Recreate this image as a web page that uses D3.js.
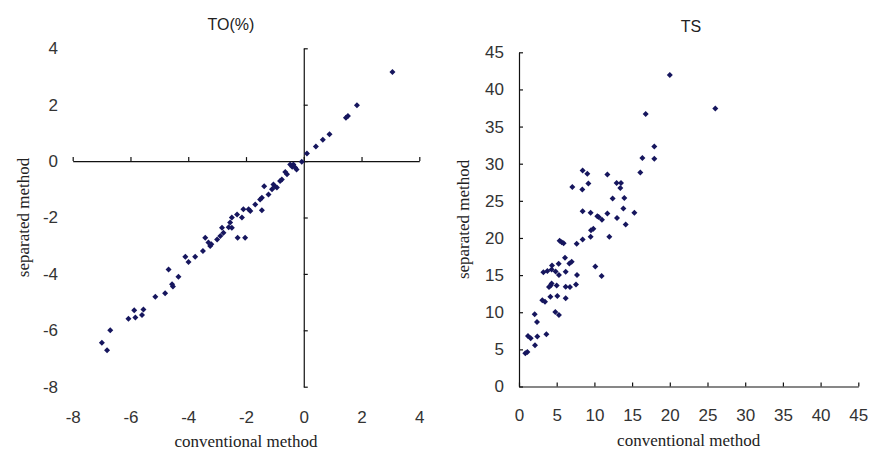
<!DOCTYPE html>
<html lang="en">
    <head>
        <meta charset="utf-8"/>
        <script src="https://d3js.org/d3.v7.min.js"></script>
        <style>
            body { margin: 0; background: #fff; }
        </style>
    </head>
    <body>
        <div id="chart"></div>
    </body>
    <script>
        // TO(%) panel: conventional vs separated method
        var toX = [3.07, 1.84, 1.53, 1.46, 0.89, 0.66, 0.42, 0.11, -0.07, -0.3, -0.36, -0.47, -0.58, -0.64,
            -0.76, -0.82, -0.93, -1.05, -1.1, -1.22, -1.37, -1.45, -1.51, -1.45, -1.68, -1.85, -1.91, -2.09,
            -2.14, -2.31, -2.49, -2.49, -2.55, -2.03, -2.29, -2.78, -2.83, -2.89, -3.0, -3.24, -3.3, -3.41,
            -3.49, -3.76, -3.99, -4.1, -4.34, -4.56, -4.53, -4.68, -4.8, -5.14, -5.55, -5.6, -5.87, -5.83,
            -6.07, -6.7, -6.99, -6.81, -0.25, -0.4, -1.0, -2.6, -3.2];
        var toY = [3.16, 1.98, 1.6, 1.54, 0.95, 0.76, 0.52, 0.27, -0.02, -0.23, -0.12, -0.12, -0.47, -0.39,
            -0.65, -0.71, -0.94, -0.83, -1.0, -1.18, -0.89, -1.3, -1.36, -1.74, -1.54, -1.77, -1.71, -1.71,
            -2.0, -1.89, -2.0, -2.36, -2.18, -2.72, -2.72, -2.54, -2.36, -2.66, -2.78, -3.01, -2.89, -2.72,
            -3.19, -3.39, -3.58, -3.39, -4.1, -4.37, -4.45, -3.84, -4.69, -4.81, -5.26, -5.46, -5.29, -5.55,
            -5.59, -6.0, -6.44, -6.71, -0.3, -0.2, -0.9, -2.35, -2.95];
        var toTicks = [-8, -6, -4, -2, 0, 2, 4];

        // TS panel
        var tsX = [20.0, 26.04, 16.8, 17.95, 17.95, 16.36, 16.09, 8.44, 9.06, 9.2, 7.07, 8.4, 11.72, 12.95,
            13.53, 13.44, 12.42, 13.97, 13.84, 15.3, 14.15, 13.0, 11.72, 10.39, 10.57, 11.0, 9.5, 8.44,
            9.86, 9.55, 9.5, 11.98, 8.44, 7.65, 5.39, 5.66, 5.92, 6.1, 6.99, 6.68, 5.26, 4.38, 4.33, 3.76,
            3.23, 4.86, 6.19, 5.3, 7.69, 7.56, 10.12, 10.96, 6.76, 6.19, 5.0, 4.33, 4.2, 3.98, 4.16, 5.08,
            6.19, 3.09, 3.45, 5.3, 4.82, 2.08, 2.39, 2.43, 3.63, 1.19, 1.55, 2.12, 1.11, 0.84];
        var tsY = [41.96, 37.44, 36.68, 32.33, 30.68, 30.77, 28.8, 29.1, 28.66, 27.32, 26.87, 26.51, 28.53,
            27.41, 27.41, 26.74, 25.3, 25.39, 23.96, 23.38, 21.81, 22.7, 23.29, 22.93, 22.84, 22.44, 23.38,
            23.6, 21.23, 21.05, 20.15, 20.15, 19.79, 19.21, 19.61, 19.43, 19.3, 17.33, 16.79, 16.57, 16.52,
            16.3, 15.76, 15.54, 15.4, 15.49, 15.45, 15.0, 15.0, 13.75, 16.17, 14.87, 13.39, 13.43, 13.61,
            13.88, 13.61, 13.39, 12.09, 12.18, 11.87, 11.6, 11.42, 9.63, 10.03, 9.72, 8.69, 6.72, 7.03,
            6.81, 6.49, 5.55, 4.66, 4.48];
        var tsTicks = [0, 5, 10, 15, 20, 25, 30, 35, 40, 45];

        var width = 874, height = 450;
        var dotColor = "#16165e";
        var tickFont = "'Liberation Sans', Arial, sans-serif";
        var titleFont = "'Liberation Serif', 'Times New Roman', serif";

        var svg = d3.select("#chart")
            .append("svg")
                .attr("width", width)
                .attr("height", height);

        function drawPanel(p) {
            var x = d3.scaleLinear().domain(p.domain).range([p.left, p.right]);
            var y = d3.scaleLinear().domain(p.domain).range([p.bottom, p.top]);
            var g = svg.append("g");
            var fmt = function (d) { return String(d); };  // plain hyphen minus, like the original

            // axis lines cross at (0,0) with inside ticks
            g.append("g")
                .attr("transform", "translate(0," + y(0) + ")")
                .call(d3.axisTop(x).tickValues(p.ticks).tickSize(4).tickSizeOuter(0).tickFormat(""));
            g.append("g")
                .attr("transform", "translate(" + x(0) + ",0)")
                .call(d3.axisRight(y).tickValues(p.ticks).tickSize(4).tickSizeOuter(0).tickFormat(""));
            g.selectAll(".domain, .tick line").attr("stroke", "#111").attr("stroke-width", 1.2);

            // tick labels along the low edges
            var xLab = g.append("g")
                .attr("transform", "translate(0," + p.xLabelY + ")")
                .call(d3.axisBottom(x).tickValues(p.ticks).tickSize(0).tickPadding(0).tickFormat(fmt));
            var yLab = g.append("g")
                .attr("transform", "translate(" + p.yLabelX + ",0)")
                .call(d3.axisLeft(y).tickValues(p.ticks).tickSize(0).tickPadding(0).tickFormat(fmt));
            xLab.select(".domain").remove();
            yLab.select(".domain").remove();
            xLab.selectAll("text").attr("dy", "0.35em");
            g.selectAll("text")
                .attr("font-family", tickFont)
                .attr("font-size", 17)
                .attr("fill", "#333");

            g.append("g")
                .selectAll("path")
                .data(p.xs)
                .join("path")
                    .attr("transform", function (d, i) {
                        return "translate(" + x(d) + "," + y(p.ys[i]) + ") rotate(45)";
                    })
                    .attr("d", d3.symbol().type(d3.symbolSquare).size(18))
                    .attr("fill", dotColor);

            g.append("text")
                .attr("x", p.titleX).attr("y", p.titleY)
                .attr("text-anchor", "middle").attr("dy", "0.35em")
                .attr("font-family", tickFont).attr("font-size", 16).attr("fill", "#222")
                .text(p.title);
            g.append("text")
                .attr("x", (p.left + p.right) / 2).attr("y", p.xTitleY)
                .attr("text-anchor", "middle").attr("dy", "0.35em")
                .attr("font-family", titleFont).attr("font-size", 17).attr("fill", "#222")
                .text("conventional method");
            g.append("text")
                .attr("transform", "translate(" + p.yTitleX + "," + (p.top + p.bottom) / 2 + ") rotate(-90)")
                .attr("text-anchor", "middle").attr("dy", "0.35em")
                .attr("font-family", titleFont).attr("font-size", 17).attr("fill", "#222")
                .text("separated method");
        }

        drawPanel({
            xs: toX, ys: toY, ticks: toTicks, domain: [-8, 4], title: "TO(%)",
            left: 72.7, right: 419.3, top: 48.3, bottom: 386.7,
            xLabelY: 417.5, yLabelX: 58, titleX: 231, titleY: 24, xTitleY: 441.5, yTitleX: 23
        });
        drawPanel({
            xs: tsX, ys: tsY, ticks: tsTicks, domain: [0, 45], title: "TS",
            left: 519, right: 858.3, top: 52.3, bottom: 386.5,
            xLabelY: 415, yLabelX: 504, titleX: 691, titleY: 26, xTitleY: 440, yTitleX: 463
        });
    </script>
</html>
